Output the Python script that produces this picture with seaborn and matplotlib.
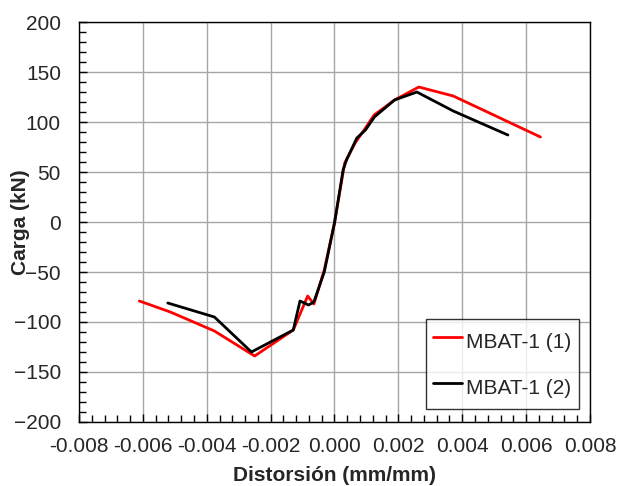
import numpy as np
import pandas as pd
import matplotlib
matplotlib.use("Agg")
import matplotlib.pyplot as plt
from matplotlib.ticker import MultipleLocator, FormatStrFormatter
import seaborn as sns

# curva MBAT-1 (1)  - distorsion (mm/mm) vs carga (kN)
x1 = [-0.00611, -0.00514, -0.00376, -0.00250, -0.00129, -0.00084, -0.000645, -0.00032,
      0.0, 0.00032, 0.000645, 0.00097, 0.00124, 0.00188, 0.00264, 0.00372, 0.00645]
y1 = [-79, -90, -109, -134, -108, -74, -82, -48, -1, 59, 79, 94, 107, 122, 135, 126, 85]

# curva MBAT-1 (2)
x2 = [-0.00522, -0.00376, -0.00260, -0.00129, -0.00108, -0.00081, -0.000645, -0.00032,
      0.0, 0.00027, 0.000376, 0.00070, 0.00097, 0.00125, 0.00188, 0.00258, 0.00372, 0.00543]
y2 = [-81, -95, -130, -108, -79, -83, -80, -50, -1, 52, 62, 84, 92, 105, 122, 130, 111, 87]

labels = ["MBAT-1 (1)", "MBAT-1 (2)"]

df = pd.concat([
    pd.DataFrame({"x": x1, "y": y1, "serie": labels[0]}),
    pd.DataFrame({"x": x2, "y": y2, "serie": labels[1]}),
])

sns.set_style("white")
plt.rcParams['font.family'] = ['Liberation Sans', 'DejaVu Sans']

fs = 15
fig = plt.figure(figsize=(6.19, 4.86), dpi=100)
ax = fig.add_axes([0.1276, 0.1317, 0.8255, 0.823])

sns.lineplot(data=df, x="x", y="y", hue="serie", palette=["#ff0000", "#000000"],
             sort=False, estimator=None, linewidth=2, ax=ax)

ax.set_xlim(-0.008, 0.008)
ax.set_ylim(-200, 200)
ax.xaxis.set_major_locator(MultipleLocator(0.002))
ax.xaxis.set_minor_locator(MultipleLocator(0.0004))
ax.xaxis.set_major_formatter(FormatStrFormatter('%.3f'))
ax.yaxis.set_major_locator(MultipleLocator(50))
ax.yaxis.set_minor_locator(MultipleLocator(10))

ax.grid(True, which='major', color='#a6a6a6', linewidth=1)
ax.set_axisbelow(True)
ax.tick_params(which='both', direction='in', color='black', labelsize=fs,
               labelcolor='#262626', left=True, bottom=True)
ax.tick_params(which='major', length=6, width=1)
ax.tick_params(which='minor', length=5, width=1)
ax.tick_params(axis='y', which='major', pad=13)
ax.tick_params(axis='x', which='major', pad=10.5)
for s in ax.spines.values():
    s.set_color('black')
    s.set_linewidth(1)

ax.set_xlabel("Distorsión (mm/mm)", fontsize=fs, fontweight='bold')
ax.set_ylabel("Carga (kN)", fontsize=fs, fontweight='bold')
ax.xaxis.set_label_coords(0.5, -0.11)
ax.yaxis.set_label_coords(-0.096, 0.5)

leg = ax.legend(loc='lower right', fontsize=fs, frameon=True, fancybox=False,
                edgecolor='black', handlelength=1.4, handleheight=1.8,
                handletextpad=0.2, labelspacing=0.77, borderpad=0.35,
                borderaxespad=0, bbox_to_anchor=(0.978, 0.0325))
leg.get_frame().set_linewidth(1)

fig.savefig("out.png", dpi=100)
